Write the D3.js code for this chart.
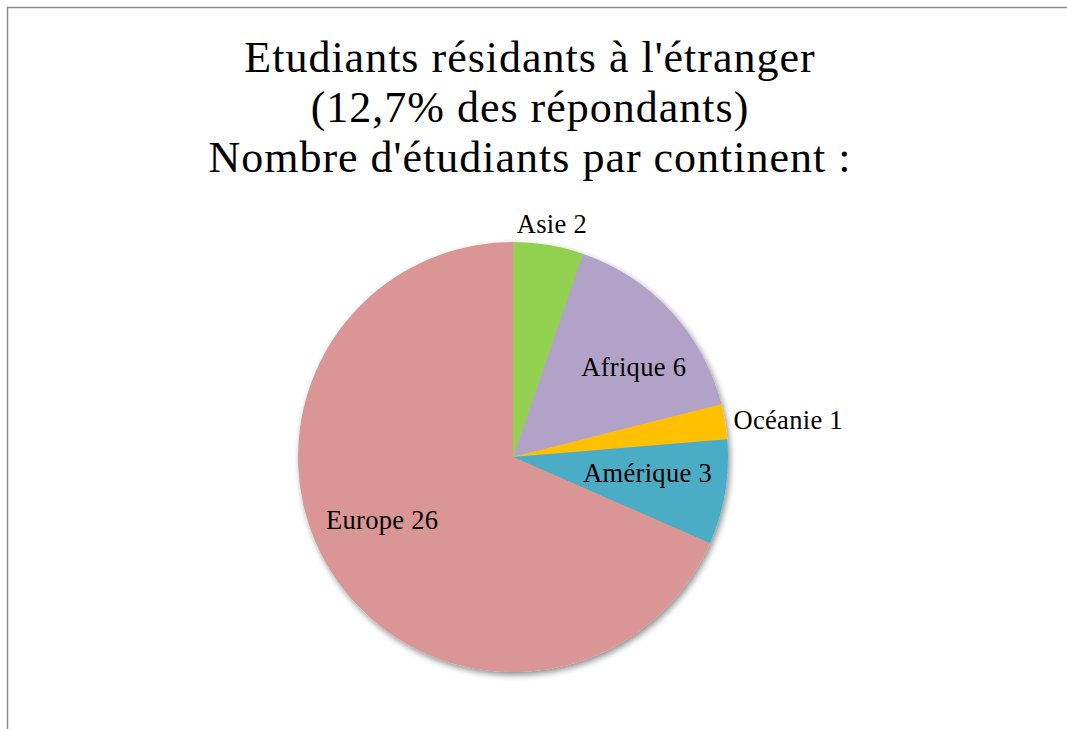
<!DOCTYPE html>
<html>
<head>
<meta charset="utf-8">
<script src="https://cdn.jsdelivr.net/npm/d3@7/dist/d3.min.js"></script>
<style>
  body { margin: 0; background: #fff; }
  text { font-family: "Liberation Serif", "DejaVu Serif", serif; fill: #000; }
</style>
</head>
<body>
<div id="chart"></div>
<script>
// donnees
var continents = ["Asie", "Afrique", "Océanie", "Amérique", "Europe"];
var effectifs = [2, 6, 1, 3, 26];
var couleurs = ["#92D050", "#B3A2C7", "#FFC000", "#4BACC6", "#D99694"];
var titre = ["Etudiants résidants à l'étranger", "(12,7% des répondants)", "Nombre d'étudiants par continent :"];

var svgW = 1067, svgH = 729;
var cx = 513, cy = 457, R = 215;
// position des etiquettes : rayon (fraction de R) et decalage d'angle
var lblPos = {
  "Asie":     { r: 1.10, da: 0,   anchor: "middle" },
  "Afrique":  { r: 0.70, da: 6,   anchor: "middle" },
  "Océanie":  { r: 1.04, da: 0,   anchor: "start" },
  "Amérique": { r: 0.63, da: -3,  anchor: "middle" },
  "Europe":   { r: 0.675, da: 7.5, anchor: "middle" }
};

var svg = d3.select("#chart").append("svg").attr("width", svgW).attr("height", svgH);

// cadre (haut et gauche visibles)
svg.append("path")
  .attr("d", "M7.5," + svgH + " V7.5 H" + svgW)
  .attr("fill", "none").attr("stroke", "#8c8c8c").attr("stroke-width", 1.5);

var defs = svg.append("defs");
var f = defs.append("filter").attr("id", "ombre").attr("x", "-20%").attr("y", "-20%").attr("width", "140%").attr("height", "140%");
f.append("feGaussianBlur").attr("in", "SourceAlpha").attr("stdDeviation", 3);
f.append("feOffset").attr("dx", 2).attr("dy", 3).attr("result", "b");
f.append("feComponentTransfer").append("feFuncA").attr("type", "linear").attr("slope", 0.45);
var m = f.append("feMerge");
m.append("feMergeNode");
m.append("feMergeNode").attr("in", "SourceGraphic");

svg.append("g").selectAll("text")
  .data(titre)
  .enter()
  .append("text")
  .attr("x", 530)
  .attr("y", (d, i) => 72 + i * 50)
  .attr("text-anchor", "middle")
  .attr("font-size", 44)
  .attr("letter-spacing", 1)
  .text(d => d);

var data = continents.map((c, i) => ({ nom: c, val: effectifs[i], col: couleurs[i] }));
var pie = d3.pie().sort(null).value(d => d.val);
var arc = d3.arc().innerRadius(0).outerRadius(R);
var arcs = pie(data);

var g = svg.append("g").attr("transform", "translate(" + cx + "," + cy + ")");
g.append("g").attr("filter", "url(#ombre)")
  .selectAll("path")
  .data(arcs)
  .enter()
  .append("path")
  .attr("d", arc)
  .attr("fill", d => d.data.col);

g.selectAll("text.lbl")
  .data(arcs)
  .enter()
  .append("text")
  .attr("class", "lbl")
  .attr("font-size", 26.5)
  .attr("letter-spacing", 0.3)
  .attr("text-anchor", d => lblPos[d.data.nom].anchor)
  .attr("dy", "0.35em")
  .attr("transform", function(d) {
    var p = lblPos[d.data.nom];
    var a = (d.startAngle + d.endAngle) / 2 + p.da * Math.PI / 180;
    var r = p.r * R;
    return "translate(" + [r * Math.sin(a), -r * Math.cos(a)] + ")";
  })
  .text(d => d.data.nom + " " + d.data.val);
</script>
</body>
</html>
